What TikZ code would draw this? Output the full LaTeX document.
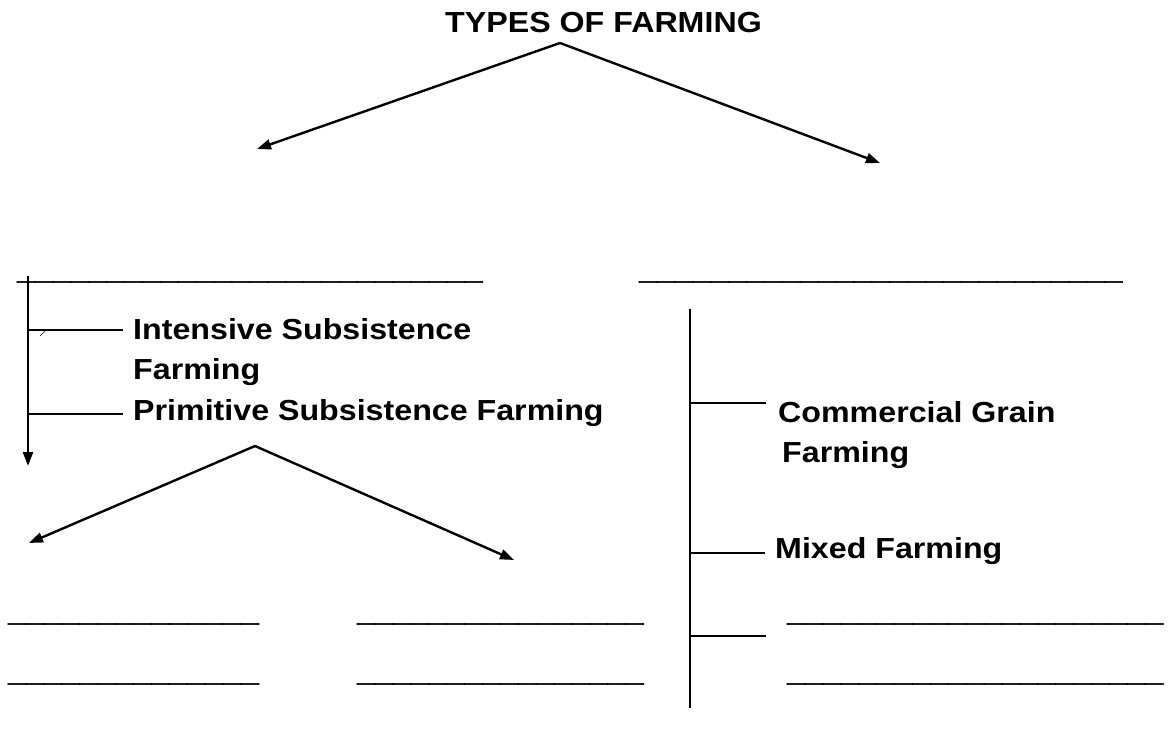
\documentclass[tikz,border=0pt]{standalone}
\usepackage{fontspec}
\setmainfont{Liberation Sans}[FakeStretch=1.11]
\newfontfamily\blankfont{Liberation Sans}[FakeStretch=1.11, FakeBold=1.6]
\usepackage{tikz}
\usetikzlibrary{arrows.meta}

\newcommand{\blankline}[1]{{\blankfont\foreach \k in {1,...,#1}{\_}}}

\begin{document}
\begin{tikzpicture}[
    x=1pt, y=-1pt,
    important line/.style={line width=2.4pt},
    branch line/.style={line width=1.8pt},
    pile/.style={line width=2.4pt, -{Triangle[length=14pt,width=10pt]}},
    label text/.style={anchor=base west, inner sep=0pt,
    font=\bfseries\fontsize{29}{34}\selectfont},
    every node/.style={color=black}
    ]
    \useasboundingbox (0,0) rectangle (1175,738);
    % Title and first fork
    \node[label text] (title) at (445,33) {TYPES OF FARMING};
    \coordinate (top fork) at (560,43);
    \coordinate (top left end) at (257,149);
    \coordinate (top right end) at (880,163);
    \draw[pile] (top fork) -- (top left end);
    \draw[pile] (top fork) -- (top right end);
    % Blanks to fill in
    \node[label text] (blank left) at (17,279) {\blankline{26}};
    \node[label text] (blank right) at (639,279) {\blankline{27}};
    \node[label text] (blank a1) at (8,621) {\blankline{14}};
    \node[label text] (blank a2) at (8,681) {\blankline{14}};
    \node[label text] (blank b1) at (357,621) {\blankline{16}};
    \node[label text] (blank b2) at (357,681) {\blankline{16}};
    \node[label text] (blank c1) at (787,621) {\blankline{21}};
    \node[label text] (blank c2) at (787,681) {\blankline{21}};
    % Left column
    \node[label text] (intensive) at (133,339) {Intensive Subsistence};
    \node[label text] (intensive more) at (133,379) {Farming};
    \node[label text] (primitive) at (133,420) {Primitive Subsistence Farming};
    \coordinate (left top) at (28,276);
    \coordinate (left bottom) at (28,466);
    \draw[pile] (left top) -- (left bottom);
    \coordinate (left stem a) at (28,330);
    \coordinate (left stem b) at (28,414);
    \draw[branch line, shorten >=10pt] (left stem a) -- (left stem a -| intensive.west);
    \draw[branch line, shorten >=10pt] (left stem b) -- (left stem b -| primitive.west);
    \draw[thin] (40,336) -- (45,331);
    % Second fork, under primitive farming
    \coordinate (low fork) at (255,446);
    \coordinate (low left end) at (29,543);
    \coordinate (low right end) at (514,560);
    \draw[pile] (low fork) -- (low left end);
    \draw[pile] (low fork) -- (low right end);
    % Right column
    \node[label text] (commercial) at (778,422) {Commercial Grain};
    \node[label text] (commercial more) at (782,462) {Farming};
    \node[label text] (mixed) at (775,558) {Mixed Farming};
    \coordinate (right top) at (690,309);
    \coordinate (right bottom) at (690,708);
    \draw[important line] (right top) -- (right bottom);
    \coordinate (right stem a) at (690,403);
    \coordinate (right stem b) at (690,553);
    \coordinate (right stem c) at (690,636);
    \draw[branch line] (right stem a) -- ++(76,0) coordinate (right end a);
    \draw[branch line] (right stem b) -- ++(75,0) coordinate (right end b);
    \draw[branch line] (right stem c) -- ++(76,0) coordinate (right end c);
\end{tikzpicture}
\end{document}
